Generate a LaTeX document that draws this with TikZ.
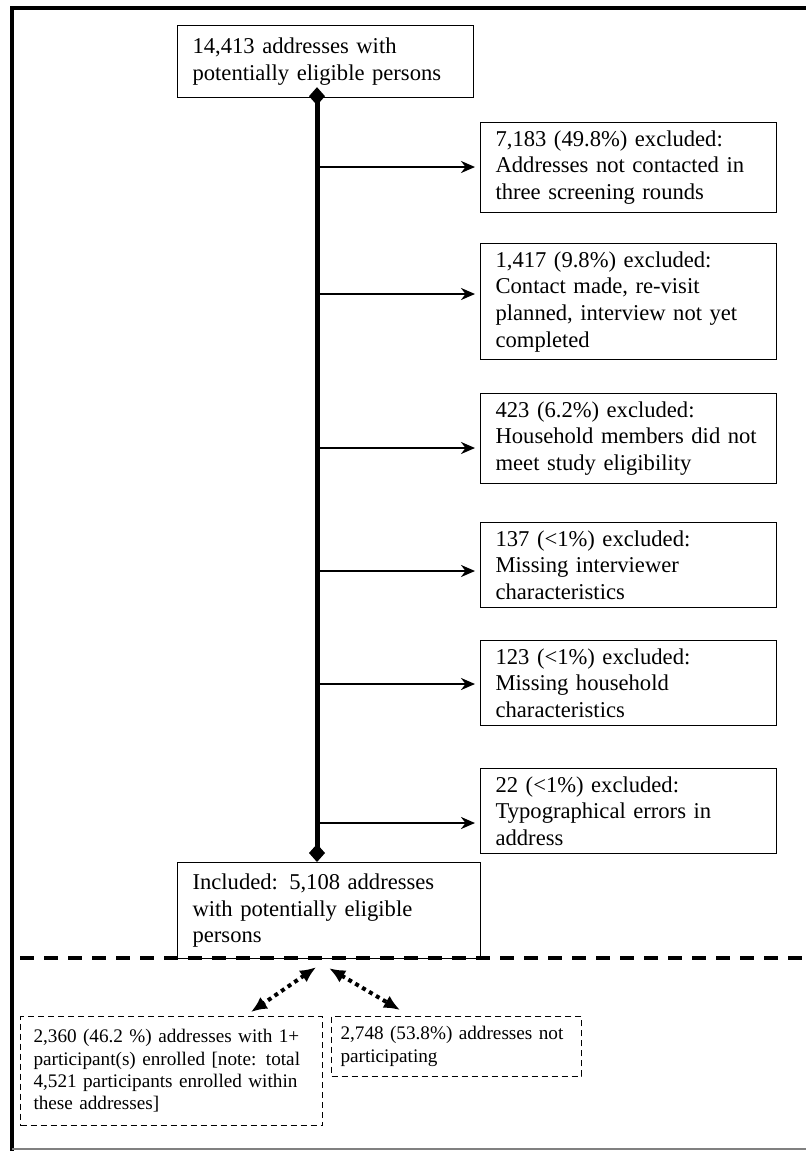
\documentclass[tikz,border=0pt]{standalone}
\usepackage{fontspec}
\setmainfont{Liberation Serif}
\usetikzlibrary{arrows.meta,positioning}
\tikzset{
  flowbox/.style={draw,line width=0.6pt,align=left,anchor=north west,inner xsep=7.5pt,inner ysep=4pt,text width=133pt,font=\fontsize{11.3}{13.3}\selectfont},
  splitbox/.style={draw,line width=0.5pt,dash pattern=on 3pt off 2pt,align=left,anchor=north west,inner xsep=6.5pt,inner ysep=5pt,font=\fontsize{9.6}{11.2}\selectfont},
  spine/.style={line width=2.5pt,{Diamond[length=9pt,width=8pt]}-{Diamond[length=9pt,width=8pt]}},
  exarrow/.style={line width=1.3pt,-{Stealth[length=7pt,width=6pt]},shorten >=2.5pt},
  dotarrow/.style={line width=2pt,dash pattern=on 2pt off 2pt,{Latex[length=8pt,width=7pt]}-{Latex[length=8pt,width=7pt]}}
}

\begin{document}
\begin{tikzpicture}[x=0.5pt,y=-0.5pt]
  \useasboundingbox (0,0) rectangle (806,1151);
  % frame
  \draw[line width=2pt] (806,8) -- (12,8) -- (12,1151);
  \draw[gray,line width=1pt] (12,1149) -- (806,1149);

  % main column
  \node[flowbox,minimum height=36pt] (top) at (177,25) {14,413 addresses with\\potentially eligible persons};
  \node[flowbox,text width=136.5pt,minimum height=48pt] (incl) at (177,862) {Included: 5,108 addresses\\with potentially eligible\\persons};
  \coordinate (sp) at (317,0);
  \draw[spine,shorten <=-5.5pt] (top.south -| sp) -- (incl.north -| sp);

  % exclusions
  \node[flowbox] (ex1) at (480,122) {7,183 (49.8\%) excluded:\\Addresses not contacted in\\three screening rounds};
  \node[flowbox] (ex2) at (480,243) {1,417 (9.8\%) excluded:\\Contact made, re-visit\\planned, interview not yet\\completed};
  \node[flowbox] (ex3) at (480,393) {423 (6.2\%) excluded:\\Household members did not\\meet study eligibility};
  \node[flowbox] (ex4) at (480,522) {137 (<1\%) excluded:\\Missing interviewer\\characteristics};
  \node[flowbox] (ex5) at (480,640) {123 (<1\%) excluded:\\Missing household\\characteristics};
  \node[flowbox] (ex6) at (480,768) {22 (<1\%) excluded:\\Typographical errors in\\address};
  \foreach \i/\ay in {1/167,2/294,3/448,4/571,5/684,6/823} {
    \coordinate (br\i) at (317,\ay);
    \draw[exarrow] (br\i) -- (ex\i.west |- br\i);
  }

  % split below the line
  \draw[line width=2pt,dash pattern=on 7pt off 5pt] (20,958) -- (806,958);
  \node[splitbox,text width=138pt,minimum height=54.5pt] (enr) at (20,1016) {2,360 (46.2 \%) addresses with 1+\\participant(s) enrolled [note: total\\4,521 participants enrolled within\\these addresses]};
  \node[splitbox,text width=116pt,inner xsep=4.5pt] (nonp) at (331,1016) {2,748 (53.8\%) addresses not\\participating};
  \draw[dotarrow] ([xshift=-6.5pt,yshift=-4pt]incl.south) -- ([xshift=-36pt,yshift=2pt]enr.north east);
  \draw[dotarrow] ([yshift=-4.5pt]incl.south) -- ([xshift=34.5pt,yshift=3pt]nonp.north west);
\end{tikzpicture}
\end{document}
